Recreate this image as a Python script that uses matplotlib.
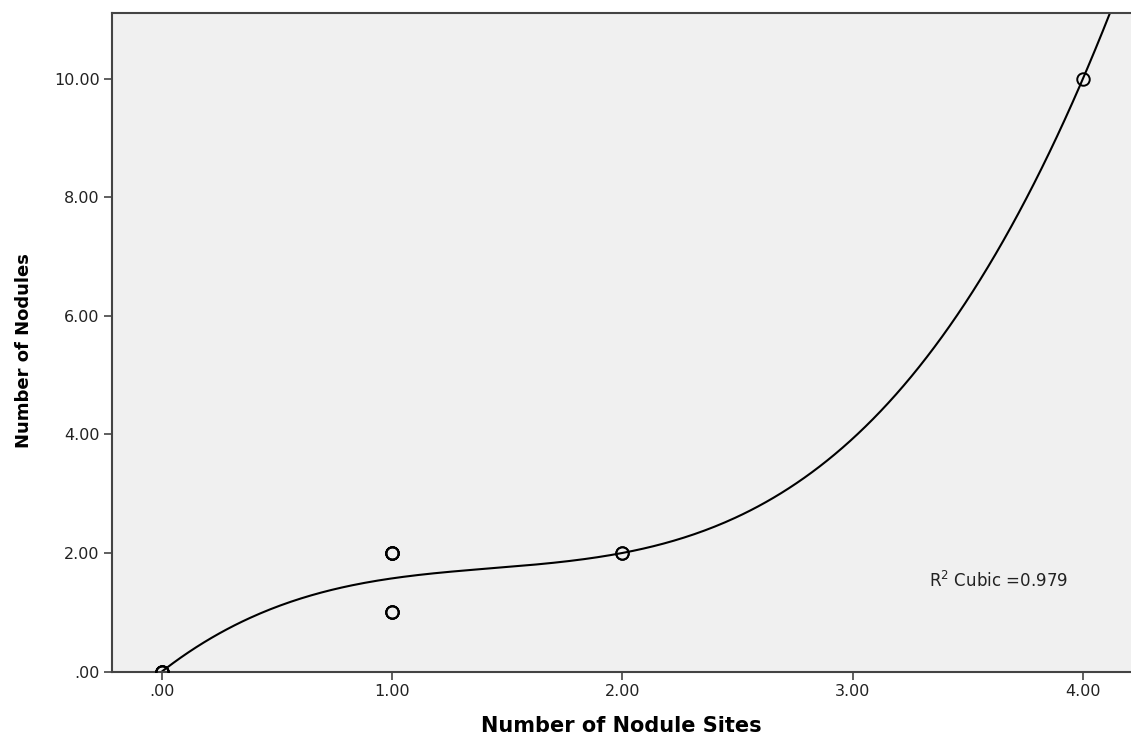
import numpy as np
import matplotlib
matplotlib.use("Agg")
import matplotlib.pyplot as plt
from matplotlib.ticker import FuncFormatter

# observations (repeated points overlap on the chart)
nodule_sites = [0, 0, 0, 0, 1, 1, 1, 1, 1, 1, 1, 2, 2, 4]
nodules = [0, 0, 0, 0, 1, 1, 1, 2, 2, 2, 2, 2, 2, 10]

x_ticks = [0, 1, 2, 3, 4]
y_ticks = [0, 2, 4, 6, 8, 10]


def spss_fmt(v, pos=None):
    s = "%.2f" % v
    if s.startswith("0."):
        s = s[1:]
    return s


def main():
    x = np.array(nodule_sites, dtype=float)
    y = np.array(nodules, dtype=float)
    coef = np.polyfit(x, y, 3)
    fit = np.polyval(coef, x)
    r2 = 1 - np.sum((y - fit) ** 2) / np.sum((y - y.mean()) ** 2)

    fig = plt.figure(figsize=(11.31, 7.42), dpi=100)
    ax = fig.add_axes([112 / 1131, 70.5 / 742, 1 - 112 / 1131, 658.5 / 742])
    ax.set_facecolor("#f0f0f0")

    xlim = (-0.217, 4.209)
    ylim = (0, 11.11)
    xs = np.linspace(xlim[0], xlim[1], 400)
    ax.plot(xs, np.polyval(coef, xs), color="black", lw=1.5, zorder=2)
    ax.plot(x, y, linestyle="none", marker="o", markersize=9,
            markerfacecolor="none", markeredgecolor="black",
            markeredgewidth=1.4, zorder=3)

    ax.set_xlim(*xlim)
    ax.set_ylim(*ylim)
    ax.set_xticks(x_ticks)
    ax.set_yticks(y_ticks)
    ax.xaxis.set_major_formatter(FuncFormatter(spss_fmt))
    ax.yaxis.set_major_formatter(FuncFormatter(spss_fmt))
    ax.tick_params(direction="out", length=6, width=1.2, color="#444444",
                   labelsize=11.5, labelcolor="#222222", pad=3)

    for side in ["left", "bottom", "top"]:
        ax.spines[side].set_color("#444444")
        ax.spines[side].set_linewidth(1.5)
    ax.spines["right"].set_visible(False)

    ax.set_xlabel("Number of Nodule Sites", fontsize=15, fontweight="bold",
                  labelpad=12)
    ax.set_ylabel("Number of Nodules", fontsize=13, fontweight="bold")
    ax.yaxis.set_label_coords(-0.078, 0.487)

    ax.text(3.33, 1.53, "R$^2$ Cubic =%.3f" % r2, fontsize=12,
            color="#222222", va="center", ha="left")

    fig.savefig("out.png", dpi=100)


if __name__ == "__main__":
    main()
